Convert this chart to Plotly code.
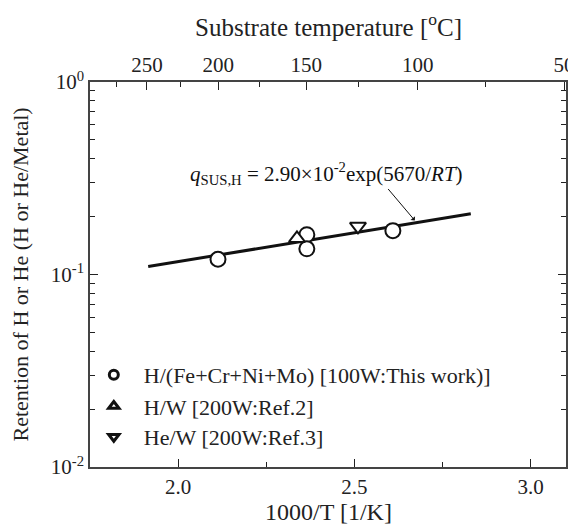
import plotly.graph_objects as go

# Data
this_x = [2.113, 2.365, 2.365, 2.609]
this_y = [0.120, 0.161, 0.136, 0.169]
ref2_x = [2.337]
ref2_y = [0.154]
ref3_x = [2.51]
ref3_y = [0.178]
fit_x = [1.915, 2.83]
fit_y = [0.110, 0.207]

top_temps = [250, 200, 150, 100, 50]
top_minor_temps = [275, 225, 175, 125, 75]
legend_names = ["H/(Fe+Cr+Ni+Mo) [100W:This work)]", "H/W [200W:Ref.2]", "He/W [200W:Ref.3]"]

FONT = "Liberation Serif"
INK = "#222222"

def inv(t):
    return 1000.0 / (t + 273.15)

fig = go.Figure()

fig.add_trace(go.Scatter(x=fit_x, y=fit_y, mode="lines",
                         line=dict(color="#111111", width=3), showlegend=False))
fig.add_trace(go.Scatter(x=this_x, y=this_y, mode="markers", showlegend=False,
                         marker=dict(symbol="circle", size=15, color="white",
                                     line=dict(color="#111111", width=2))))
fig.add_trace(go.Scatter(x=ref2_x, y=ref2_y, mode="markers", showlegend=False,
                         marker=dict(symbol="triangle-up", size=14, color="white",
                                     line=dict(color="#111111", width=2))))
fig.add_trace(go.Scatter(x=ref3_x, y=ref3_y, mode="markers", showlegend=False,
                         marker=dict(symbol="triangle-down", size=14, color="white",
                                     line=dict(color="#111111", width=2))))

# legend entries (bold symbols), each in its own legend for exact spacing
legend_keys = ["legend", "legend2", "legend3"]
for name, sym, lk in zip(legend_names, ["circle", "triangle-up", "triangle-down"], legend_keys):
    fig.add_trace(go.Scatter(x=[None], y=[None], mode="markers", name=name, legend=lk,
                             marker=dict(symbol=sym, size=9, color="white",
                                         line=dict(color="#111111", width=3))))

# dummy for top axis
fig.add_trace(go.Scatter(x=[None], y=[None], xaxis="x2", showlegend=False))

fig.add_annotation(x=0.496, y=0.805, xref="paper", yref="paper", showarrow=False,
                   text="<i>q</i><sub>SUS,H</sub> = 2.90×10<sup>-2</sup>exp(5670/<i>RT</i>)",
                   font=dict(family=FONT, size=21, color="#111111"))
fig.add_annotation(x=2.671, y=-0.719, ax=2.592, ay=-0.548, xref="x", yref="y",
                   axref="x", ayref="y", showarrow=True, arrowhead=1, arrowsize=1,
                   arrowwidth=1, arrowcolor="#111111", text="")

# axis titles
fig.add_annotation(x=0.5, y=-0.117, xref="paper", yref="paper", showarrow=False,
                   yanchor="middle", text="1000/T [1/K]",
                   font=dict(family=FONT, size=24, color=INK))
fig.add_annotation(x=0.5, y=1.147, xref="paper", yref="paper", showarrow=False,
                   yanchor="middle", text="Substrate temperature [<sup>o</sup>C]",
                   font=dict(family=FONT, size=25, color=INK))
fig.add_annotation(x=-0.145, y=0.5, xref="paper", yref="paper", showarrow=False,
                   textangle=-90, xanchor="center", text="Retention of H or He (H or He/Metal)",
                   font=dict(family=FONT, size=22, color=INK))

axis_common = dict(showgrid=False, zeroline=False, showline=True, linecolor="#444444",
                   linewidth=1.5, ticks="inside", tickcolor=INK, tickwidth=1.2,
                   ticklen=8, automargin=False,
                   tickfont=dict(family=FONT, size=21, color=INK))

leg_common = dict(x=-0.013, xanchor="left", yanchor="middle", bgcolor="rgba(0,0,0,0)",
                  font=dict(family=FONT, size=22, color=INK), itemwidth=50)

fig.update_layout(
    width=568, height=518,
    margin=dict(l=82, r=10, t=74, b=59),
    paper_bgcolor="white", plot_bgcolor="white",
    font=dict(family=FONT, color=INK),
    xaxis=dict(range=[1.75, 3.1], tickvals=[2.0, 2.5, 3.0], ticktext=["2.0", "2.5", "3.0"],
               minor=dict(tickvals=[2.25, 2.75], ticks="inside", ticklen=5, tickcolor=INK),
               mirror=False, **axis_common),
    xaxis2=dict(range=[1.75, 3.1], overlaying="x", side="top", anchor="y",
                tickvals=[inv(t) for t in top_temps], ticktext=[str(t) for t in top_temps],
                minor=dict(tickvals=[inv(t) for t in top_minor_temps], ticks="inside",
                           ticklen=5, tickcolor=INK),
                **axis_common),
    yaxis=dict(type="log", range=[-2, 0], tickvals=[0.01, 0.1, 1],
               ticktext=["10<sup>-2</sup>", "10<sup>-1</sup>", "10<sup>0</sup>"],
               minor=dict(tickvals=[k * 0.01 for k in range(2, 10)] + [k * 0.1 for k in range(2, 10)],
                          ticks="inside", ticklen=5, tickcolor=INK),
               mirror="ticks", **axis_common),
    legend=dict(y=0.239, **leg_common),
    legend2=dict(y=0.158, **leg_common),
    legend3=dict(y=0.078, **leg_common),
)

fig.write_html("out.html")
